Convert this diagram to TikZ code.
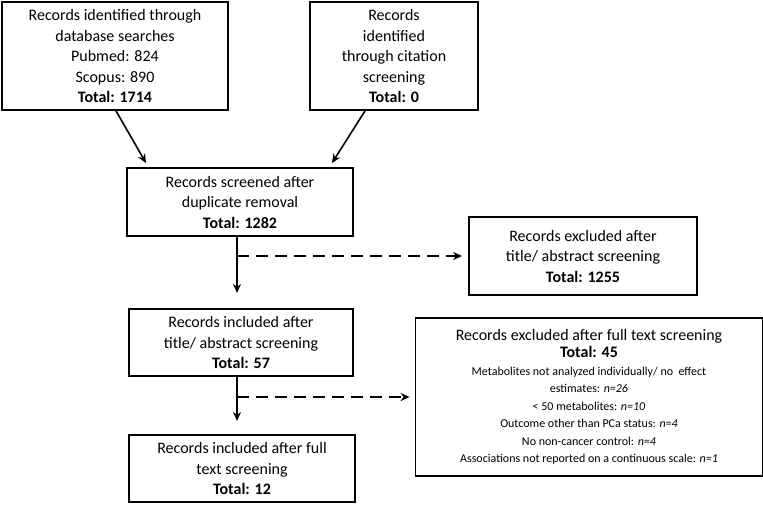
\documentclass[tikz,border=0pt]{standalone}
\usepackage{fontspec}
\setmainfont{Carlito}
\usetikzlibrary{arrows.meta}
\begin{document}
\begin{tikzpicture}[x=1pt,y=-1pt,
 box/.style={draw,line width=1.8pt,align=center,inner sep=0pt,font=\fontsize{16}{20.5}\selectfont},
 arr/.style={line width=1.6pt,-{Stealth[length=9pt,width=8pt]}},
 darr/.style={arr,dash pattern=on 12pt off 7pt}]
\useasboundingbox (0,0) rectangle (763,504);
\node[box,minimum width=226,minimum height=108] (b1) at (115,56) {Records identified through\\database searches\\Pubmed: 824\\Scopus: 890\\\textbf{Total: 1714}};
\node[box,minimum width=168,minimum height=108] (b2) at (394,56) {Records\\identified\\through citation\\screening\\\textbf{Total: 0}};
\node[box,minimum width=226,minimum height=68] (b3) at (240,202) {Records screened after\\duplicate removal\\\textbf{Total: 1282}};
\node[box,minimum width=228,minimum height=78] (b4) at (583,256) {Records excluded after\\title/ abstract screening\\\textbf{Total: 1255}};
\node[box,minimum width=224,minimum height=67] (b5) at (241,342.5) {Records included after\\title/ abstract screening\\\textbf{Total: 57}};
\node[box,minimum width=226,minimum height=67] (b7) at (242,468.5) {Records included after full\\text screening\\\textbf{Total: 12}};
\node[box,minimum width=347,minimum height=158,font=\fontsize{12}{17.5}\selectfont] (b6) at (589,397) {{\fontsize{16}{20}\selectfont Records excluded after full text screening}\\{\fontsize{16}{20}\selectfont\textbf{Total: 45}}\\Metabolites not analyzed individually/ no\ \ effect\\estimates: \textit{n=26}\\< 50 metabolites: \textit{n=10}\\Outcome other than PCa status: \textit{n=4}\\No non-cancer control: \textit{n=4}\\Associations not reported on a continuous scale: \textit{n=1}};
\coordinate (t1) at (146,163);
\coordinate (t2) at (332,163);
\draw[arr] (b1.south -| 116,0) -- (t1);
\draw[arr] (b2.south -| 365,0) -- (t2);
\coordinate (s3) at (237,256);
\coordinate (e3) at (237,293);
\draw[arr] (b3.south -| 237,0) -- (e3);
\draw[darr] (s3) -- ([xshift=-6pt]b4.west);
\coordinate (s5) at (237,397);
\coordinate (e5) at (237,421);
\draw[arr] (b5.south -| 237,0) -- (e5);
\draw[darr] (s5) -- ([xshift=-5pt]b6.west);
\end{tikzpicture}
\end{document}
